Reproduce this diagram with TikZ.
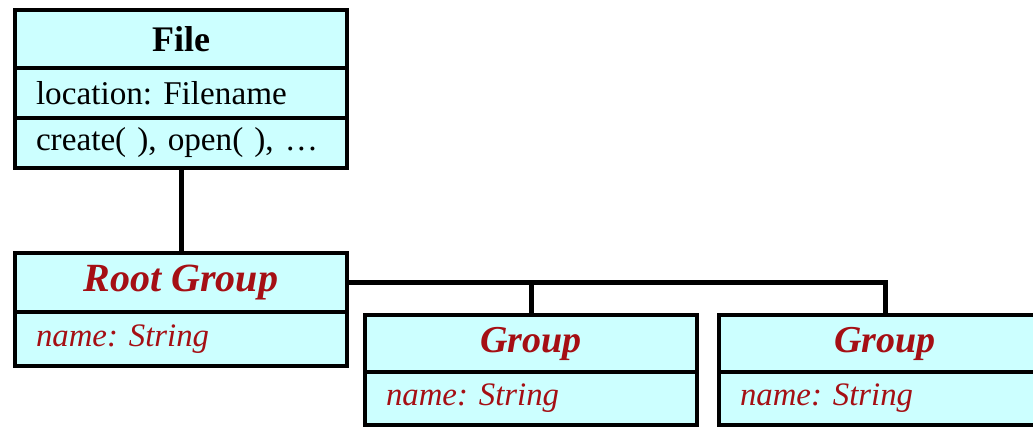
\documentclass[tikz,border=0pt]{standalone}
\usepackage{fontspec}
\setmainfont{Liberation Serif}
\frenchspacing
\usetikzlibrary{positioning}
\definecolor{boxcyan}{RGB}{204,255,255}
\definecolor{grpred}{RGB}{165,15,20}
\tikzset{
	umlbox/.style={draw, line width=2pt, fill=boxcyan, outer sep=0pt, inner sep=0pt, minimum width=166pt},
	classname/.style={umlbox, font=\fontsize{18}{20}\selectfont\bfseries},
	groupname/.style={umlbox, text=grpred, font=\fontsize{19}{21}\selectfont\bfseries\itshape},
	field/.style={umlbox, text width=145pt, inner xsep=10.5pt, align=left, font=\fontsize{16.6}{19}\selectfont},
	groupfield/.style={field, text=grpred, font=\fontsize{16.4}{19}\selectfont\itshape},
	link/.style={line width=2.5pt}
}
\begin{document}
\begin{tikzpicture}[x=0.5pt,y=-0.5pt]
	\useasboundingbox (0,0) rectangle (1033,427);
	\clip (0,0) rectangle (1033,427);
	\node[classname, minimum height=29pt] (file) at (181,39) {File};
	\node[field, minimum height=25pt, below=0pt of file] (fileloc) {location: Filename};
	\node[field, minimum height=25pt, below=0pt of fileloc] (fileops) {create( ), open( ), …};
	\node[groupname, font=\fontsize{20}{22}\selectfont\bfseries\itshape, minimum height=29.5pt] (root) at (181,282.5) {Root Group};
	\node[groupfield, minimum height=27pt, below=0pt of root] (rootname) {name: String};
	\node[groupname, minimum height=28.5pt] (grp1) at (531,343.5) {Group};
	\node[groupfield, minimum height=26.5pt, below=0pt of grp1] (grp1name) {name: String};
	\node[groupname, minimum height=28.5pt] (grp2) at (885,343.5) {Group};
	\node[groupfield, minimum height=26.5pt, below=0pt of grp2] (grp2name) {name: String};
	\draw[link] (fileops.south) -- (root.north);
	\draw[link] (root.east) -| (grp1.north);
	\draw[link] (root.east) -| (grp2.north);
\end{tikzpicture}
\end{document}
